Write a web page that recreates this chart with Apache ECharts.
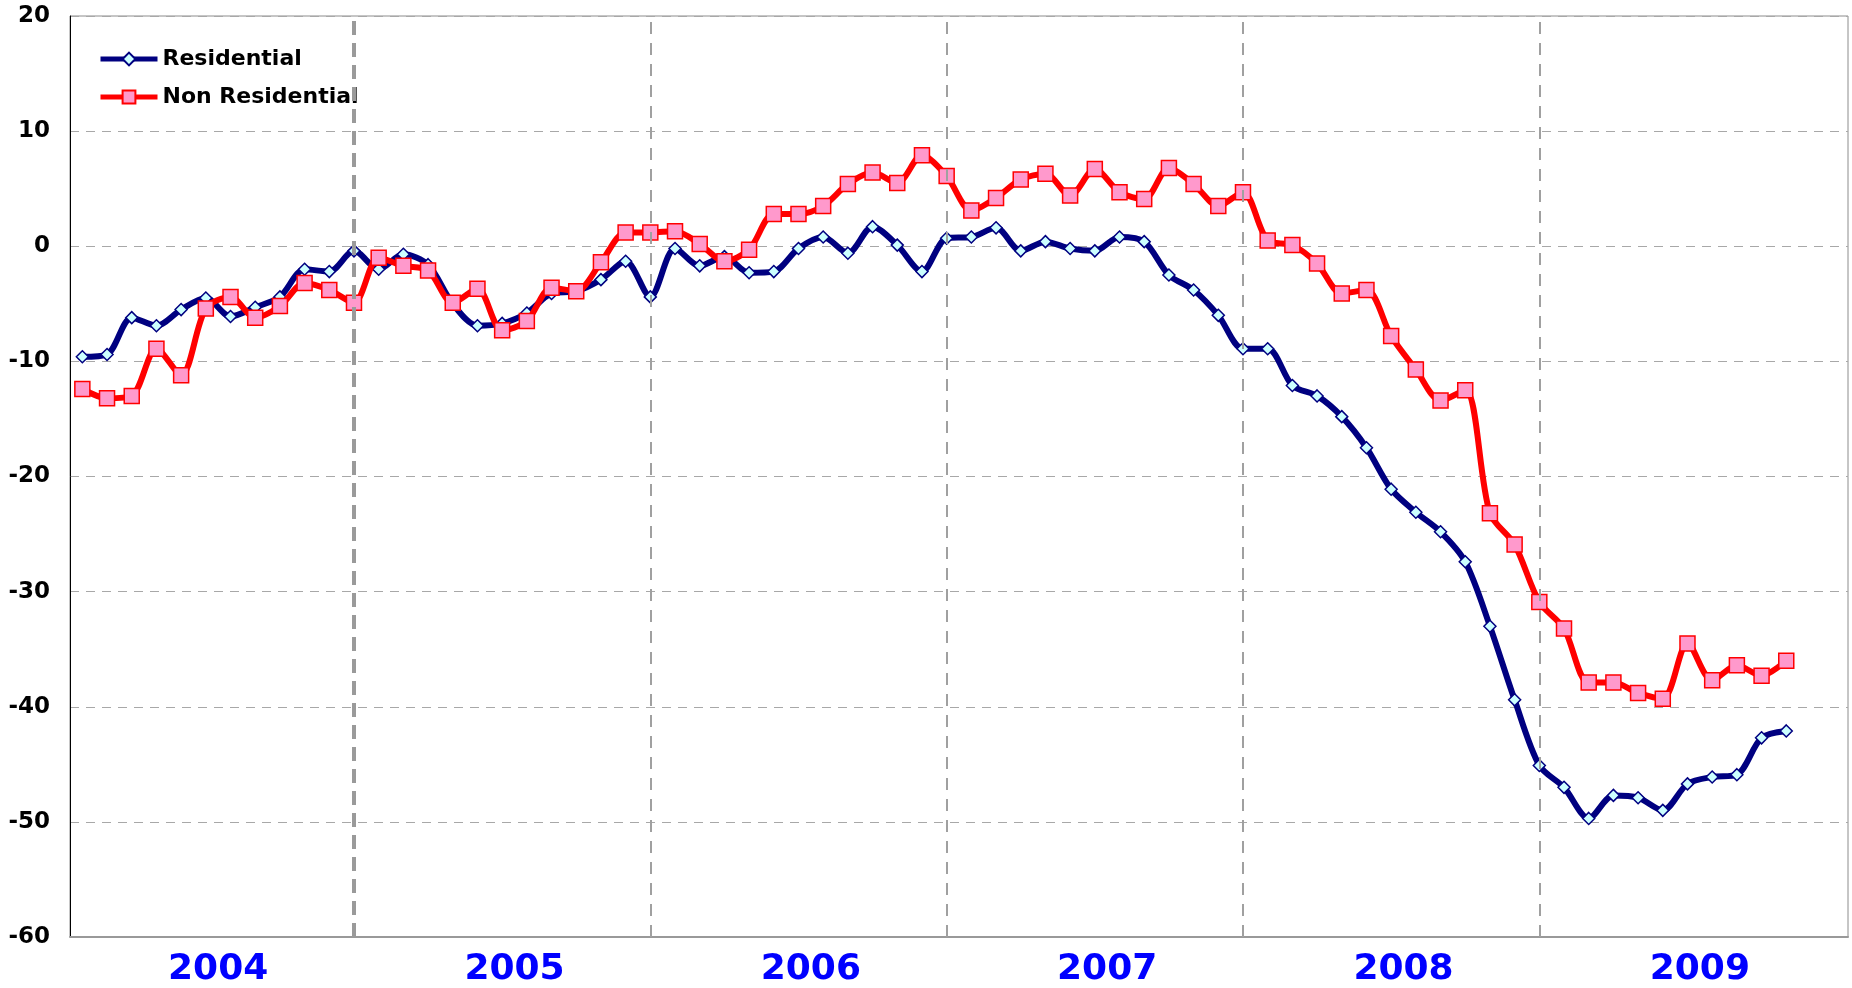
<!DOCTYPE html>
<html>
<head>
<meta charset="utf-8">
<script src="https://cdn.jsdelivr.net/npm/echarts@6/dist/echarts.min.js"></script>
<style>
  html, body { margin: 0; padding: 0; background: #fff; }
  #chart { width: 1852px; height: 988px; }
</style>
</head>
<body>
<div id="chart"></div>
<script>
// year labels under the axis
const years = ['2004', '2005', '2006', '2007', '2008', '2009']
const monthNames = ['Jan', 'Feb', 'Mar', 'Apr', 'May', 'Jun', 'Jul', 'Aug', 'Sep', 'Oct', 'Nov', 'Dec']
// one category per month, Jan 2004 .. Dec 2009
const months = []
years.forEach(y => monthNames.forEach(m => months.push(m + ' ' + y)))
// dashed year separators sit on the December points
const separators = ['Dec 2004', 'Dec 2005', 'Dec 2006', 'Dec 2007', 'Dec 2008']

// monthly values, Jan 2004 .. Oct 2009
const residential = [
  -9.6, -9.4, -6.2, -6.9, -5.5, -4.5, -6.1, -5.3, -4.4, -2.0, -2.2, -0.4,
  -2.0, -0.7, -1.6, -5.0, -6.9, -6.7, -5.8, -4.1, -3.9, -2.9, -1.3, -4.4,
  -0.2, -1.7, -0.9, -2.3, -2.2, -0.2, 0.8, -0.6, 1.7, 0.1, -2.2, 0.7,
  0.8, 1.6, -0.4, 0.4, -0.2, -0.4, 0.8, 0.4, -2.5, -3.8, -6.0, -8.9,
  -8.9, -12.1, -13.0, -14.8, -17.5, -21.1, -23.1, -24.8, -27.4, -33.0, -39.4, -45.1,
  -47.0, -49.7, -47.7, -47.9, -49.0, -46.7, -46.1, -45.9, -42.7, -42.1
]
const nonResidential = [
  -12.4, -13.2, -13.0, -8.9, -11.2, -5.4, -4.4, -6.2, -5.2, -3.2, -3.8, -4.9,
  -1.0, -1.7, -2.1, -4.9, -3.7, -7.3, -6.5, -3.6, -3.9, -1.4, 1.2, 1.2,
  1.3, 0.2, -1.3, -0.3, 2.8, 2.8, 3.5, 5.4, 6.4, 5.5, 7.9, 6.1,
  3.1, 4.2, 5.8, 6.3, 4.4, 6.7, 4.7, 4.1, 6.8, 5.4, 3.5, 4.7,
  0.5, 0.1, -1.5, -4.1, -3.8, -7.8, -10.7, -13.4, -12.5, -23.2, -25.9, -30.9,
  -33.2, -37.9, -37.9, -38.8, -39.3, -34.5, -37.7, -36.4, -37.3, -36.0
]

const font = "'DejaVu Sans', Arial, sans-serif"
const chart = echarts.init(document.getElementById('chart'))

chart.setOption({
  animation: false,
  backgroundColor: '#fff',
  grid: {
    left: 70, right: 4, top: 16, bottom: 50,
    show: true, borderColor: '#8c8c8c', borderWidth: 1
  },
  legend: {
    left: 93,
    top: 43,
    orient: 'vertical',
    itemWidth: 57,
    itemHeight: 16,
    itemGap: 16,
    lineStyle: {width: 5},
    textStyle: {fontFamily: font, fontSize: 22, fontWeight: 'bold', color: '#000'},
    data: ['Residential', 'Non Residential']
  },
  xAxis: [
    { // months, positions the points
      type: 'category',
      data: months,
      boundaryGap: true,
      axisLine: {show: false},
      axisTick: {show: false},
      axisLabel: {show: false},
      splitLine: {show: false}
    },
    { // years, labels only
      type: 'category',
      data: years,
      position: 'bottom',
      axisLine: {show: true, lineStyle: {color: '#999', width: 2}},
      axisTick: {show: false},
      axisLabel: {
        margin: 15,
        color: '#0000ff',
        fontFamily: font,
        fontSize: 36,
        fontWeight: 'bold'
      },
      splitLine: {show: false}
    }
  ],
  yAxis: {
    type: 'value',
    min: -60,
    max: 20,
    interval: 10,
    axisLine: {show: true, lineStyle: {color: '#000', width: 1}},
    axisTick: {show: false},
    axisLabel: {
      margin: 20,
      color: '#000',
      fontFamily: font,
      fontSize: 23,
      fontWeight: 'bold'
    },
    splitLine: {lineStyle: {color: '#a8a8a8', width: 1, type: [9, 7]}}
  },
  series: [
    {
      name: 'Residential',
      type: 'line',
      xAxisIndex: 0,
      data: residential,
      smooth: 0.3,
      symbol: 'diamond',
      symbolSize: 12,
      lineStyle: {color: '#000080', width: 6},
      itemStyle: {color: '#ccffff', borderColor: '#000080', borderWidth: 1.5},
      z: 3
    },
    {
      name: 'Non Residential',
      type: 'line',
      xAxisIndex: 0,
      data: nonResidential,
      smooth: 0.3,
      symbol: 'rect',
      symbolSize: 15,
      lineStyle: {color: '#ff0000', width: 6},
      itemStyle: {color: '#ff99cc', borderColor: '#ff0000', borderWidth: 1.5},
      z: 4,
      markLine: {
        silent: true,
        symbol: 'none',
        label: {show: false},
        data: separators.map((m, i) => ({
          xAxis: m,
          lineStyle: i === 0
            ? {color: '#9a9a9a', width: 4, type: [14, 8]}
            : {color: '#a0a0a0', width: 2, type: [12, 9]}
        }))
      }
    }
  ]
})
</script>
</body>
</html>
